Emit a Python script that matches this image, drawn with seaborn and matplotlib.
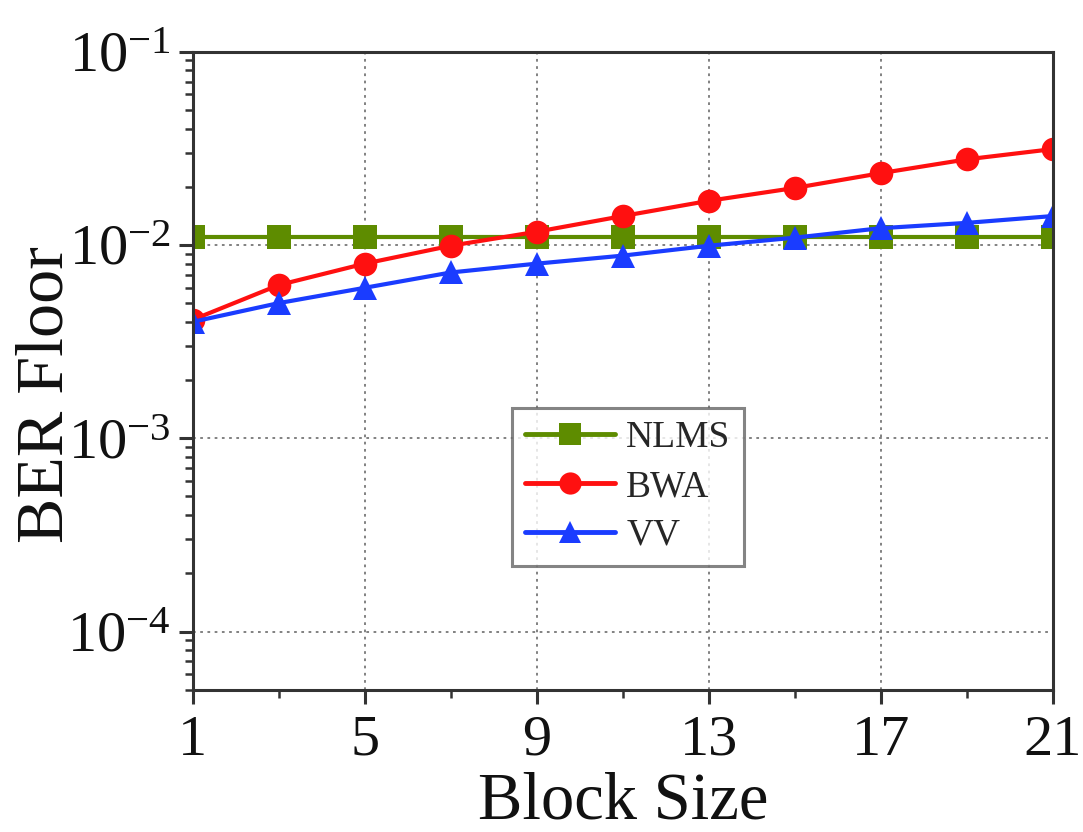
import numpy as np
import pandas as pd
import matplotlib
matplotlib.use("Agg")
import matplotlib.pyplot as plt
import seaborn as sns
from matplotlib.ticker import FixedLocator, LogLocator, NullFormatter

block_size = [1, 3, 5, 7, 9, 11, 13, 15, 17, 19, 21]
nlms = [0.011, 0.011, 0.011, 0.011, 0.011, 0.011, 0.011, 0.011, 0.011, 0.011, 0.011]
bwa = [0.0041, 0.0062, 0.0080, 0.0099, 0.0117, 0.0141, 0.0169, 0.0197, 0.0235, 0.0277, 0.0313]
vv = [0.0040, 0.0050, 0.0060, 0.0072, 0.0080, 0.0088, 0.0099, 0.0109, 0.0122, 0.0130, 0.0141]
series_names = ["NLMS", "BWA", "VV"]
x_ticks = [1, 5, 9, 13, 17, 21]
x_minor = [3, 7, 11, 15, 19]

df = pd.DataFrame({
    "Block Size": block_size * 3,
    "BER": nlms + bwa + vv,
    "Method": ["NLMS"] * len(block_size) + ["BWA"] * len(block_size) + ["VV"] * len(block_size),
})

sns.set_style("white", {"xtick.bottom": True, "ytick.left": True})
plt.rcParams["font.family"] = ["Liberation Serif", "DejaVu Serif"]
plt.rcParams["mathtext.fontset"] = "custom"
plt.rcParams["mathtext.rm"] = "Liberation Serif"
plt.rcParams["mathtext.it"] = "Liberation Serif:italic"
plt.rcParams["mathtext.bf"] = "Liberation Serif:bold"
plt.rcParams["xtick.bottom"] = True
plt.rcParams["ytick.left"] = True

fig = plt.figure(figsize=(10.83, 8.32), dpi=100)
ax = fig.add_axes([0.178, 0.171, 0.794, 0.767])

palette = {"NLMS": "#5e8c00", "BWA": "#ff1010", "VV": "#1a3cff"}
markers = {"NLMS": "s", "BWA": "o", "VV": "^"}
sns.lineplot(data=df, x="Block Size", y="BER", hue="Method", style="Method",
             hue_order=series_names, style_order=series_names,
             palette=palette, markers=markers, dashes=False,
             linewidth=3.0, markersize=17, markeredgewidth=0, ax=ax)

ax.set_yscale("log")
ax.set_ylim(5e-5, 1e-1)
ax.set_xlim(1, 21)
ax.xaxis.set_major_locator(FixedLocator(x_ticks))
ax.xaxis.set_minor_locator(FixedLocator(x_minor))
ax.yaxis.set_major_locator(LogLocator(base=10, numticks=10))
ax.yaxis.set_minor_locator(LogLocator(base=10, subs=np.arange(2, 10), numticks=20))
ax.yaxis.set_minor_formatter(NullFormatter())

ax.grid(True, which="major", color="#777777", linestyle=(0, (1.5, 2.5)), linewidth=1.3)
ax.set_axisbelow(True)
for s in ax.spines.values():
    s.set_color("#333333")
    s.set_linewidth(2.2)

ax.tick_params(axis="both", which="major", direction="out", length=10, width=2.2,
               labelsize=42, color="#333333", labelcolor="#111111", pad=6,
               bottom=True, left=True, top=False, right=False)
ax.tick_params(axis="both", which="minor", direction="out", length=6, width=1.8,
               color="#333333", bottom=True, left=True, top=False, right=False)
ax.tick_params(axis="x", which="major", pad=8)

ax.set_xlabel("Block Size", fontsize=48, color="#111111")
ax.set_ylabel("BER Floor", fontsize=49, color="#111111")
ax.xaxis.set_label_coords(0.5, -0.128)
ax.yaxis.set_label_coords(-0.135, 0.462)

leg = ax.legend(loc="upper left", bbox_to_anchor=(0.371, 0.442), fontsize=27,
                frameon=True, fancybox=False, edgecolor="#666666",
                handlelength=2.4, labelspacing=0.38, borderpad=0.35,
                handletextpad=0.3, borderaxespad=0)
leg.get_frame().set_linewidth(2.2)
for line in leg.get_lines():
    line.set_linewidth(3.5)
    line.set_markersize(16)

fig.savefig("out.png", dpi=100)
